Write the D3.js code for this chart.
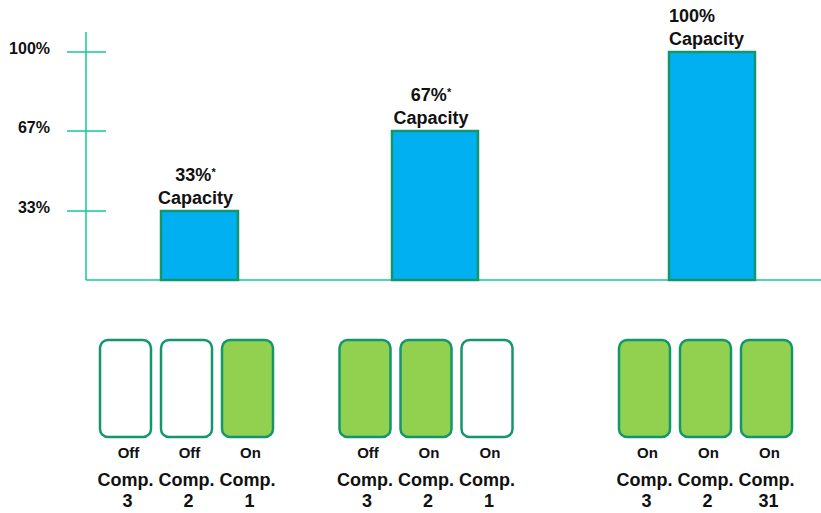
<!DOCTYPE html>
<html>
<head>
<script src="https://d3js.org/d3.v7.min.js"></script>
<style>
  body { margin: 0; background: #fff; }
  text { font-family: 'Liberation Sans', Arial, sans-serif; font-weight: bold; fill: #111; }
</style>
</head>
<body>
<svg id="chart" width="821" height="513"></svg>
<script>
'use strict';

// data
var stages = ["low", "mid", "full"];
var capacity = [33, 67, 100];
var capLabels = ["33%", "67%", "100%"];
var capNotes = ["*", "*", ""];
var tickValues = [33, 67, 100];
var tickLabels = ["33%", "67%", "100%"];
var compStates = [["Off", "Off", "On"], ["Off", "On", "On"], ["On", "On", "On"]];
var compLit = [[false, false, true], [true, true, false], [true, true, true]];
var compNumbers = [["3", "2", "1"], ["3", "2", "1"], ["3", "2", "31"]];

var axisColor = "#14c896", edgeColor = "#13966e";
var svg = d3.select("#chart");

// the original axis is not evenly spaced, so use a piecewise scale
var y = d3.scaleLinear().domain([0, 33, 67, 100]).range([280, 211, 131, 52]);
var xBar = d3.scaleOrdinal().domain(stages).range([199.5, 435, 712]);
var barW = d3.scaleOrdinal().domain(stages).range([77, 86, 86]);
var xGroup = d3.scaleOrdinal().domain(stages).range([186.5, 426, 705.5]);
var xSlot = d3.scalePoint().domain([0, 1, 2]).range([-61, 61]);

// axis
svg.append("line").attr("x1", 86).attr("x2", 86).attr("y1", 32).attr("y2", y(0))
  .attr("stroke", axisColor).attr("stroke-width", 1.5);
svg.append("line").attr("x1", 86).attr("x2", 821).attr("y1", y(0)).attr("y2", y(0))
  .attr("stroke", axisColor).attr("stroke-width", 1.5);

var ticks = svg.selectAll(".tick").data(tickValues).enter().append("g").attr("class", "tick");
ticks.append("line")
  .attr("x1", 67).attr("x2", 106)
  .attr("y1", function(d) { return y(d); }).attr("y2", function(d) { return y(d); })
  .attr("stroke", axisColor).attr("stroke-width", 1.5);
ticks.append("text")
  .attr("x", 50).attr("y", function(d) { return y(d) + 1.5; })
  .attr("text-anchor", "end").style("font-size", "16px")
  .text(function(d, i) { return tickLabels[i]; });

// bars
var bars = svg.selectAll(".bar").data(stages).enter().append("g").attr("class", "bar");
bars.append("rect")
  .attr("x", function(d) { return xBar(d) - barW(d) / 2; })
  .attr("y", function(d, i) { return y(capacity[i]); })
  .attr("width", function(d) { return barW(d); })
  .attr("height", function(d, i) { return y(0) - y(capacity[i]); })
  .attr("fill", "#00b0f0").attr("stroke", edgeColor).attr("stroke-width", 2.5);

function labelX(d, i) {
  return i === stages.length - 1 ? xBar(d) - barW(d) / 2 : xBar(d) - 4;
}
function labelAnchor(d, i) { return i === stages.length - 1 ? "start" : "middle"; }

var pct = bars.append("text")
  .attr("x", labelX).attr("y", function(d, i) { return y(capacity[i]) - 30; })
  .attr("text-anchor", labelAnchor).style("font-size", "18px");
pct.append("tspan").text(function(d, i) { return capLabels[i]; });
pct.append("tspan").attr("dy", -5).style("font-size", "11px")
  .text(function(d, i) { return capNotes[i]; });

bars.append("text")
  .attr("x", labelX).attr("y", function(d, i) { return y(capacity[i]) - 7; })
  .attr("text-anchor", labelAnchor).style("font-size", "18px")
  .text("Capacity");

// compressor switches
var groups = svg.selectAll(".grp").data(stages).enter().append("g")
  .attr("class", "grp")
  .attr("transform", function(d) { return "translate(" + xGroup(d) + ",0)"; });

var comps = groups.selectAll(".comp")
  .data(function(d, gi) {
    return compStates[gi].map(function(s, k) {
      return { state: s, lit: compLit[gi][k], num: compNumbers[gi][k], k: k };
    });
  })
  .enter().append("g").attr("class", "comp")
  .attr("transform", function(d) { return "translate(" + xSlot(d.k) + ",0)"; });

comps.append("rect")
  .attr("x", -25.5).attr("y", 340).attr("width", 51).attr("height", 97)
  .attr("rx", 8).attr("ry", 8)
  .attr("fill", function(d) { return d.lit ? "#92d050" : "#fff"; })
  .attr("stroke", edgeColor).attr("stroke-width", 2.5);

comps.append("text")
  .attr("x", 3).attr("y", 458).attr("text-anchor", "middle").style("font-size", "15px")
  .text(function(d) { return d.state; });
comps.append("text")
  .attr("x", 0).attr("y", 486).attr("text-anchor", "middle").style("font-size", "18px")
  .text("Comp.");
comps.append("text")
  .attr("x", 2).attr("y", 507).attr("text-anchor", "middle").style("font-size", "18px")
  .text(function(d) { return d.num; });
</script>
</body>
</html>
